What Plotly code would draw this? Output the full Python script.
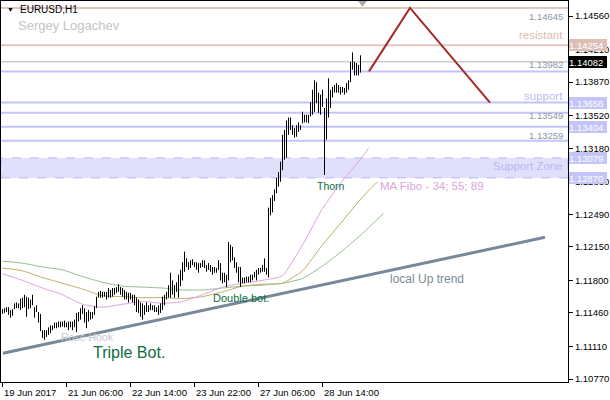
import plotly.graph_objects as go

# ---------------- data ----------------
x_tick_idx = [0, 32, 64, 96, 128, 160]
x_tick_labels = ["19 Jun 2017", "21 Jun 06:00", "22 Jun 14:00", "23 Jun 22:00", "27 Jun 06:00", "28 Jun 14:00"]
y_tick_vals = [1.14560, 1.14210, 1.13870, 1.13520, 1.13180, 1.12830, 1.12490, 1.12150, 1.11800, 1.11460, 1.11110, 1.10770]

highs = [1.1150, 1.1151, 1.1152, 1.1152, 1.1149, 1.1150, 1.1156, 1.1157, 1.1156, 1.1161,
         1.1162, 1.1165, 1.1163, 1.1162, 1.1160, 1.1165, 1.1152, 1.1154, 1.1147, 1.1145,
         1.1128, 1.1128, 1.1128, 1.1131, 1.1133, 1.1133, 1.1136, 1.1136, 1.1137, 1.1137,
         1.1137, 1.1138, 1.1136, 1.1137, 1.1137, 1.1137, 1.1139, 1.1146, 1.1147, 1.1151,
         1.1154, 1.1151, 1.1147, 1.1149, 1.1147, 1.1147, 1.1153, 1.1163, 1.1168, 1.1169,
         1.1168, 1.1168, 1.1168, 1.1172, 1.1170, 1.1172, 1.1172, 1.1173, 1.1176, 1.1173,
         1.1172, 1.1170, 1.1168, 1.1167, 1.1167, 1.1165, 1.1165, 1.1162, 1.1160, 1.1157,
         1.1156, 1.1154, 1.1157, 1.1154, 1.1156, 1.1154, 1.1154, 1.1152, 1.1154, 1.1156,
         1.1163, 1.1165, 1.1168, 1.1175, 1.1188, 1.1180, 1.1175, 1.1178, 1.1186, 1.1191,
         1.1199, 1.1210, 1.1203, 1.1199, 1.1201, 1.1202, 1.1199, 1.1199, 1.1198, 1.1198,
         1.1201, 1.1201, 1.1196, 1.1198, 1.1196, 1.1194, 1.1194, 1.1193, 1.1201, 1.1198,
         1.1188, 1.1188, 1.1186, 1.1220, 1.1217, 1.1215, 1.1204, 1.1199, 1.1194, 1.1194,
         1.1183, 1.1183, 1.1184, 1.1184, 1.1186, 1.1186, 1.1189, 1.1191, 1.1193, 1.1193,
         1.1196, 1.1203, 1.1193, 1.1256, 1.1266, 1.1269, 1.1275, 1.1287, 1.1293, 1.1304,
         1.1332, 1.1337, 1.1347, 1.1350, 1.1350, 1.1342, 1.1339, 1.1342, 1.1345, 1.1342,
         1.1356, 1.1353, 1.1353, 1.1353, 1.1366, 1.1379, 1.1389, 1.1387, 1.1376, 1.1374,
         1.1379, 1.1360, 1.1370, 1.1391, 1.1379, 1.1382, 1.1384, 1.1386, 1.1384, 1.1382,
         1.1382, 1.1381, 1.1386, 1.1389, 1.1408, 1.1418, 1.1408, 1.1407, 1.1405, 1.1415]

lows = [1.1145, 1.1146, 1.1147, 1.1144, 1.1141, 1.1143, 1.1150, 1.1151, 1.1151, 1.1149,
        1.1151, 1.1152, 1.1142, 1.1150, 1.1151, 1.1154, 1.1141, 1.1147, 1.1136, 1.1127,
        1.1120, 1.1118, 1.1121, 1.1123, 1.1125, 1.1128, 1.1130, 1.1130, 1.1131, 1.1131,
        1.1132, 1.1131, 1.1131, 1.1128, 1.1131, 1.1128, 1.1131, 1.1126, 1.1137, 1.1139,
        1.1145, 1.1136, 1.1130, 1.1137, 1.1139, 1.1140, 1.1144, 1.1151, 1.1162, 1.1162,
        1.1162, 1.1163, 1.1160, 1.1162, 1.1162, 1.1163, 1.1165, 1.1167, 1.1168, 1.1165,
        1.1163, 1.1160, 1.1160, 1.1157, 1.1160, 1.1157, 1.1154, 1.1147, 1.1146, 1.1142,
        1.1139, 1.1144, 1.1147, 1.1147, 1.1149, 1.1149, 1.1147, 1.1147, 1.1144, 1.1146,
        1.1149, 1.1154, 1.1160, 1.1162, 1.1162, 1.1165, 1.1162, 1.1168, 1.1162, 1.1174,
        1.1180, 1.1189, 1.1194, 1.1191, 1.1193, 1.1196, 1.1194, 1.1191, 1.1188, 1.1193,
        1.1194, 1.1193, 1.1189, 1.1191, 1.1189, 1.1186, 1.1188, 1.1188, 1.1191, 1.1180,
        1.1177, 1.1178, 1.1173, 1.1180, 1.1199, 1.1201, 1.1193, 1.1188, 1.1178, 1.1173,
        1.1177, 1.1177, 1.1178, 1.1178, 1.1178, 1.1180, 1.1183, 1.1180, 1.1186, 1.1188,
        1.1189, 1.1189, 1.1186, 1.1183, 1.1248, 1.1251, 1.1263, 1.1271, 1.1278, 1.1283,
        1.1295, 1.1306, 1.1308, 1.1332, 1.1337, 1.1332, 1.1329, 1.1330, 1.1335, 1.1337,
        1.1344, 1.1345, 1.1345, 1.1344, 1.1351, 1.1353, 1.1356, 1.1365, 1.1355, 1.1353,
        1.1361, 1.1290, 1.1327, 1.1350, 1.1360, 1.1371, 1.1376, 1.1376, 1.1376, 1.1374,
        1.1376, 1.1374, 1.1376, 1.1379, 1.1387, 1.1400, 1.1394, 1.1394, 1.1394, 1.1397]

ma_idx = [0, 10, 20, 30, 40, 50, 60, 70, 80, 90, 100, 110, 120, 130, 140, 150, 160, 170, 180]
ma34 = [1.1187, 1.1180, 1.1172, 1.1165, 1.1155, 1.1152, 1.1155, 1.1158, 1.1156, 1.1158,
        1.1165, 1.1173, 1.1177, 1.1180, 1.1185, 1.1217, 1.1255, 1.1284, 1.1309]
ma55 = [1.1193, 1.1190, 1.1183, 1.1177, 1.1171, 1.1164, 1.1163, 1.1162, 1.1162, 1.1161,
        1.1163, 1.1168, 1.1174, 1.1176, 1.1177, 1.1190, 1.1217, 1.1242, 1.1267]
ma89 = [1.1200, 1.1198, 1.1194, 1.1191, 1.1184, 1.1178, 1.1174, 1.1173, 1.1172, 1.1170,
        1.1170, 1.1172, 1.1174, 1.1175, 1.1177, 1.1182, 1.1195, 1.1211, 1.1229]
ma34_end = (183, 1.1318)
ma55_end = (187.5, 1.1283)
ma89_end = (190.5, 1.1250)

trend_x = [0.25, 271.25]
trend_y = [1.1104, 1.1225]
zigzag_x = [183.25, 203.75, 243.75]
zigzag_y = [1.13982, 1.14645, 1.13656]

resist_levels = [1.14645, 1.14254]
support_levels = [1.13982, 1.13656, 1.13549, 1.13404, 1.13259]
zone_levels = [1.12870, 1.13079]
bid_price = 1.14082

# ---------------- figure ----------------
FONT = "Liberation Sans"
W, H = 610, 400
L, R, T, B = 1, 42, 1, 18
Y0, Y1 = 1.10739, 1.14717


def px_x(px):
    return (px - L) / (W - L - R)


def px_y(py):
    return (H - B - py) / (H - T - B)


fig = go.Figure()

# horizontal levels
for lv in resist_levels:
    fig.add_shape(type="line", xref="paper", x0=0, x1=1, yref="y", y0=lv, y1=lv,
                  line=dict(color="#dfc6be", width=2), layer="below")
for lv in support_levels:
    fig.add_shape(type="line", xref="paper", x0=0, x1=1, yref="y", y0=lv, y1=lv,
                  line=dict(color="#c4c4f8", width=2), layer="below")
fig.add_shape(type="rect", xref="paper", x0=0, x1=1, yref="y", y0=zone_levels[0], y1=zone_levels[1],
              fillcolor="#e0e0fc", line=dict(color="#b8b8f2", width=1, dash="dash"), layer="below")
fig.add_shape(type="line", xref="paper", x0=0, x1=1, yref="y", y0=bid_price, y1=bid_price,
              line=dict(color="#b4b4b4", width=1), layer="below")

# moving averages
for vals, end, col in [(ma89, ma89_end, "#8fbf8f"), (ma55, ma55_end, "#bdb060"), (ma34, ma34_end, "#e0a0e0")]:
    fig.add_trace(go.Scatter(x=ma_idx + [end[0]], y=vals + [end[1]], mode="lines",
                             line=dict(color=col, width=1, shape="spline", smoothing=0.5),
                             hoverinfo="skip", showlegend=False))

# bars
bx, by = [], []
for i, (h, l) in enumerate(zip(highs, lows)):
    bx += [i, i, None]
    by += [l, h, None]
fig.add_trace(go.Scatter(x=bx, y=by, mode="lines", line=dict(color="black", width=1),
                         hoverinfo="skip", showlegend=False))

# trend line and zigzag
fig.add_trace(go.Scatter(x=trend_x, y=trend_y, mode="lines", line=dict(color="#778899", width=3),
                         hoverinfo="skip", showlegend=False))
fig.add_trace(go.Scatter(x=zigzag_x, y=zigzag_y, mode="lines", line=dict(color="#a52a2a", width=2),
                         hoverinfo="skip", showlegend=False))
# chart shift marker
fig.add_trace(go.Scatter(x=[180], y=[1.14703], mode="markers",
                         marker=dict(symbol="triangle-down", size=9, color="#a8a8a8"),
                         hoverinfo="skip", showlegend=False, cliponaxis=False))

ann = []


def text(px, py, s, color, size, anchor="left", family=FONT):
    ann.append(dict(x=px_x(px), y=px_y(py), xref="paper", yref="paper", text=s, showarrow=False,
                    xanchor=anchor, yanchor="middle", font=dict(family=family, size=size, color=color)))


text(5, 9, "▼", "black", 7)
text(18, 10, "EURUSD,H1", "black", 10)
text(16, 26, "Sergey Logachev", "#c4c4c4", 13)
text(565, 16, "1.14645", "#8a96a4", 9.5, "right")
text(565, 35, "resistant", "#dcbab0", 11.5, "right")
text(565, 64, "1.13982", "#8a96a4", 9.5, "right")
text(565, 96, "support", "#bcbcf2", 11.5, "right")
text(565, 115, "1.13549", "#8a96a4", 9.5, "right")
text(565, 135, "1.13259", "#8a96a4", 9.5, "right")
text(565, 166, "Support Zone", "#b8b8f0", 11.5, "right")
text(315, 186, "Thorn", "#0e6e40", 10.5)
text(378, 186, "MA Fibo - 34; 55; 89", "#dca4dc", 11.5)
text(388, 279, "local Up trend", "#7c8a98", 12)
text(211, 298, "Double bot.", "#0e6e40", 11)
text(59, 337, "Rose Hook", "#c4c8d0", 10.5)
text(91, 352, "Triple Bot.", "#0e6e40", 16)

# x axis labels (left-aligned at tick)
for idx, lab in zip(x_tick_idx, x_tick_labels):
    ann.append(dict(x=idx, y=px_y(392), xref="x", yref="paper", text=lab, showarrow=False,
                    xanchor="left", yanchor="middle", xshift=-1,
                    font=dict(family=FONT, size=9.5, color="black")))

# price boxes on the axis
for val, bg in [(1.14254, "#dcc0b8"), (bid_price, "#000000"), (1.13656, "#c4c4f8"),
                (1.13404, "#c4c4f8"), (1.13079, "#c4c4f8"), (1.12870, "#c4c4f8")]:
    ann.append(dict(x=px_x(569), y=val, xref="paper", yref="y", text=f"{val:.5f}", showarrow=False,
                    xanchor="left", yanchor="middle", width=38, height=12, align="left",
                    bgcolor=bg, borderpad=0, borderwidth=0,
                    font=dict(family=FONT, size=9.5, color="white")))

fig.update_layout(
    width=W, height=H, margin=dict(l=L, r=R, t=T, b=B, autoexpand=False),
    paper_bgcolor="white", plot_bgcolor="white",
    annotations=ann, showlegend=False,
    xaxis=dict(range=[-0.75, 282.75], showgrid=False, zeroline=False, showline=True, linecolor="black",
               linewidth=1, mirror=True, tickvals=x_tick_idx, ticks="outside", ticklen=4,
               tickcolor="black", showticklabels=False),
    yaxis=dict(range=[Y0, Y1], side="right", showgrid=False, zeroline=False, showline=True,
               linecolor="black", linewidth=1, mirror=True, tickvals=y_tick_vals,
               ticktext=[f"{v:.5f}" for v in y_tick_vals], ticks="outside", ticklen=4,
               tickcolor="black", tickfont=dict(family=FONT, size=9.5, color="black")),
)

fig.write_html("out.html", config={"displayModeBar": False},
               post_script="document.body.style.margin='0';document.body.style.overflow='hidden';")
